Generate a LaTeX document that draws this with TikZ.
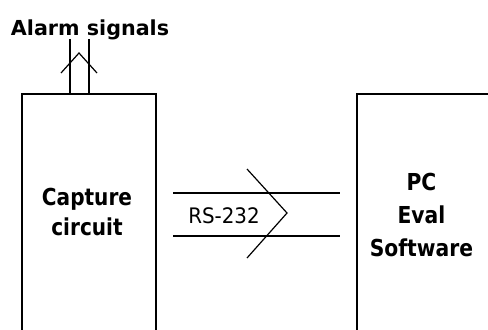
\documentclass[tikz,border=0pt]{standalone}
\usepackage{fontspec}
\setmainfont{DejaVu Sans}
\begin{document}
\begin{tikzpicture}[x=0.75pt,y=-0.75pt,
  wire/.style={line width=1.2pt},
  thinwire/.style={line width=0.9pt},
  blk/.style={draw,line width=1.4pt,inner sep=0pt,anchor=north west,minimum height=195pt},
  every node/.style={inner sep=0pt}]
\useasboundingbox (0,0) rectangle (488,329);
\clip (0,0) rectangle (488,329);
\fill[white] (0,0) rectangle (488,329);
% boxes
\node[blk,minimum width=100.5pt] (cbox) at (21,93) {};
\node[blk,minimum width=110pt] (pcbox) at (356,93) {};
% labels
\node[anchor=base,font=\fontsize{15.5}{18}\selectfont\bfseries] (alarm) at (90,35) {Alarm signals};
\node[font=\fontsize{17.5}{22.5}\selectfont\bfseries] (capture) at (87,214)
  {\scalebox{0.86}[1]{\begin{tabular}{@{}c@{}}Capture\\circuit\end{tabular}}};
\node[font=\fontsize{17.5}{25}\selectfont\bfseries] (pc) at (421.5,216.7)
  {\scalebox{0.87}[1]{\begin{tabular}{@{}c@{}}PC\\Eval\\Software\end{tabular}}};
\node[anchor=base,font=\fontsize{16}{19}\selectfont] (rs) at (224,223)
  {\scalebox{0.93}[1]{RS-232}};
% alarm signal lines
\coordinate (ctop1) at (70,93);
\coordinate (ctop2) at (89,93);
\coordinate (a1) at (70,39);
\coordinate (a2) at (89,39);
\draw[wire] (ctop1) -- (a1);
\draw[wire] (ctop2) -- (a2);
\coordinate (ch1) at (61,73);
\coordinate (chA) at (79,53);
\coordinate (ch2) at (97,73);
\draw[thinwire] (ch1) -- (chA) -- (ch2);
% RS-232 lines
\coordinate (r1s) at (173,193);
\coordinate (r1e) at (340,193);
\coordinate (r2s) at (173,236);
\coordinate (r2e) at (340,236);
\draw[wire] (r1s) -- (r1e);
\draw[wire] (r2s) -- (r2e);
\coordinate (rc1) at (247,169);
\coordinate (rcA) at (287,213);
\coordinate (rc2) at (247,258);
\draw[thinwire] (rc1) -- (rcA) -- (rc2);
\end{tikzpicture}
\end{document}
